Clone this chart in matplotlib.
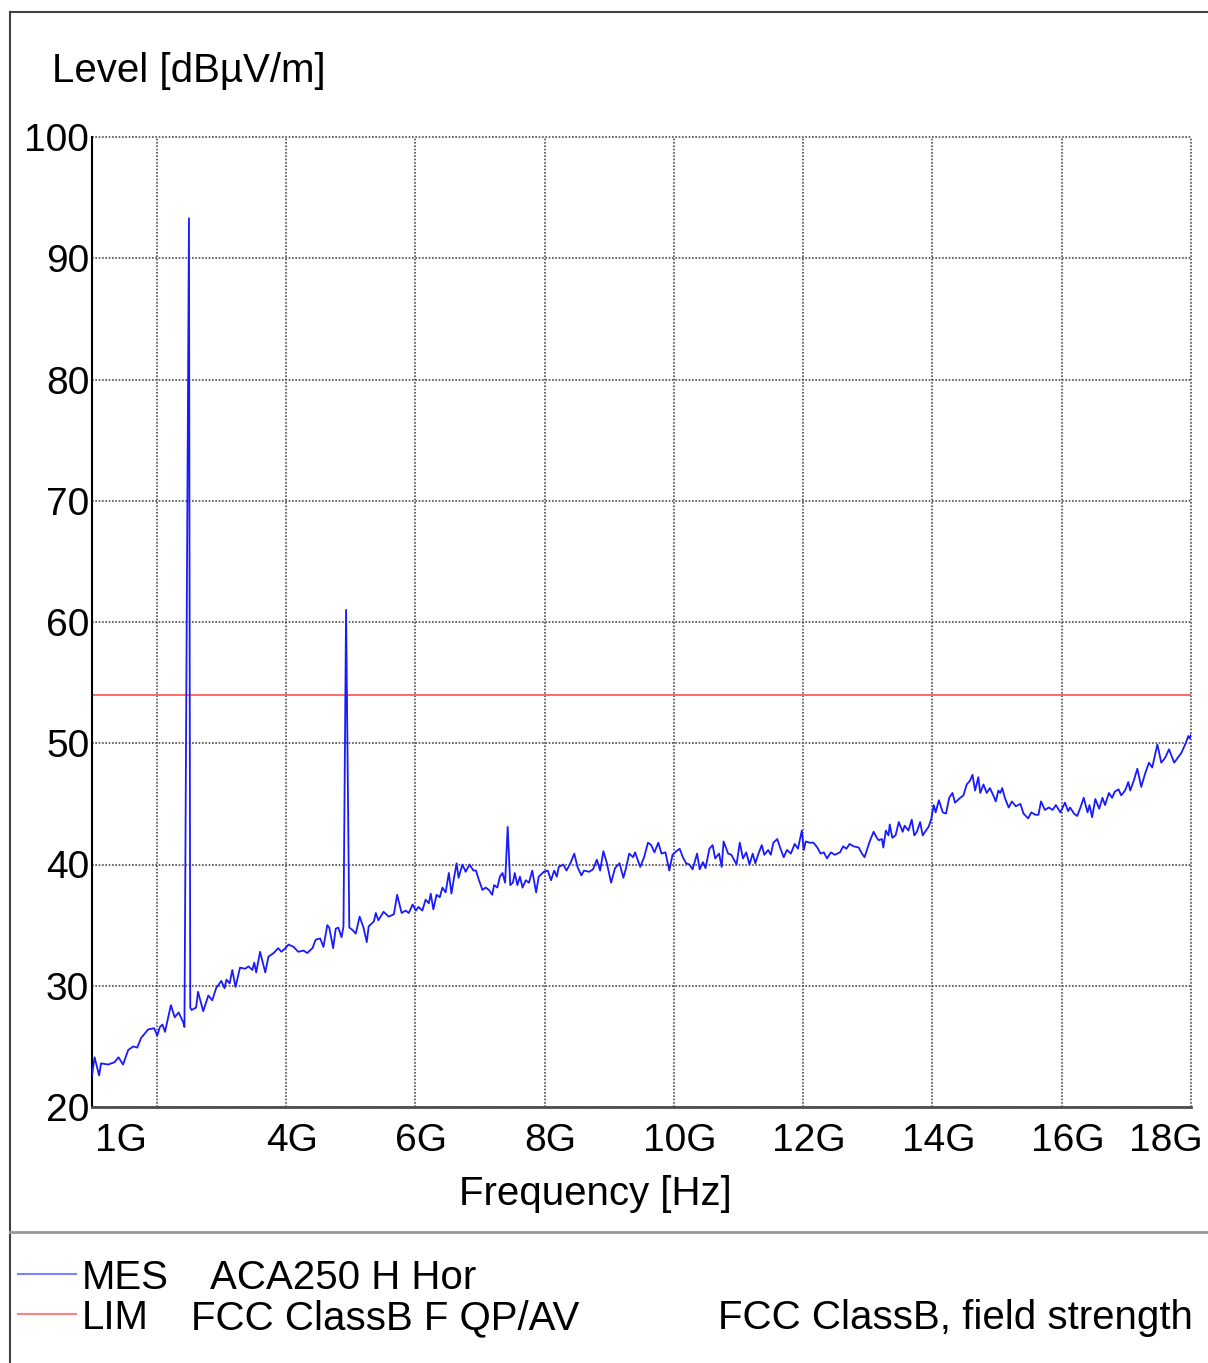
import matplotlib
matplotlib.use("Agg")
import matplotlib.pyplot as plt
from matplotlib.lines import Line2D
import matplotlib.transforms as mtransforms

plt.rcParams['font.family'] = ['Liberation Sans', 'DejaVu Sans']

# ---------------- data ----------------
freq_ghz = [
    1.00, 1.04, 1.11, 1.14, 1.25, 1.35, 1.41, 1.48, 1.56, 1.64, 1.70, 1.76, 1.87, 1.96, 2.01, 2.05,
    2.09, 2.13, 2.22, 2.28, 2.34, 2.41, 2.43, 2.50, 2.52, 2.54, 2.61, 2.64, 2.72, 2.80, 2.86, 2.92,
    3.00, 3.05, 3.08, 3.13, 3.17, 3.22, 3.29, 3.37, 3.42, 3.48, 3.51, 3.54, 3.60, 3.68, 3.73, 3.81,
    3.88, 3.93, 4.01, 4.04, 4.12, 4.19, 4.27, 4.33, 4.41, 4.46, 4.53, 4.58, 4.64, 4.67, 4.73, 4.77,
    4.81, 4.86, 4.89, 4.93, 4.98, 5.03, 5.08, 5.14, 5.20, 5.25, 5.28, 5.36, 5.39, 5.43, 5.51, 5.59,
    5.67, 5.72, 5.79, 5.85, 5.90, 5.96, 6.01, 6.05, 6.11, 6.16, 6.21, 6.24, 6.28, 6.33, 6.38, 6.42,
    6.47, 6.52, 6.56, 6.60, 6.64, 6.67, 6.73, 6.78, 6.84, 6.90, 6.94, 6.98, 7.04, 7.09, 7.14, 7.19,
    7.22, 7.27, 7.31, 7.35, 7.39, 7.43, 7.47, 7.51, 7.54, 7.58, 7.62, 7.66, 7.71, 7.76, 7.81, 7.87,
    7.91, 7.99, 8.05, 8.10, 8.15, 8.19, 8.22, 8.29, 8.34, 8.40, 8.46, 8.51, 8.57, 8.61, 8.69, 8.75,
    8.81, 8.86, 8.91, 8.96, 9.03, 9.09, 9.16, 9.22, 9.26, 9.31, 9.37, 9.40, 9.48, 9.54, 9.60, 9.65,
    9.70, 9.76, 9.81, 9.87, 9.93, 9.98, 10.04, 10.09, 10.14, 10.19, 10.24, 10.29, 10.36, 10.40, 10.45, 10.49,
    10.55, 10.60, 10.64, 10.70, 10.74, 10.77, 10.84, 10.89, 10.97, 11.02, 11.07, 11.12, 11.17, 11.22, 11.26, 11.31,
    11.36, 11.40, 11.46, 11.50, 11.54, 11.60, 11.65, 11.70, 11.75, 11.81, 11.87, 11.92, 11.98, 12.01, 12.04, 12.10,
    12.16, 12.22, 12.27, 12.32, 12.37, 12.43, 12.49, 12.57, 12.62, 12.67, 12.72, 12.78, 12.86, 12.91, 12.95, 13.03,
    13.09, 13.14, 13.17, 13.22, 13.24, 13.28, 13.32, 13.34, 13.38, 13.43, 13.48, 13.54, 13.57, 13.63, 13.68, 13.72,
    13.76, 13.81, 13.85, 13.90, 13.94, 13.98, 14.02, 14.05, 14.10, 14.16, 14.21, 14.26, 14.31, 14.35, 14.43, 14.48,
    14.53, 14.58, 14.62, 14.66, 14.71, 14.74, 14.79, 14.84, 14.89, 14.95, 14.98, 15.02, 15.05, 15.08, 15.12, 15.18,
    15.23, 15.29, 15.36, 15.41, 15.48, 15.53, 15.59, 15.64, 15.68, 15.74, 15.80, 15.86, 15.91, 15.98, 16.05, 16.10,
    16.13, 16.19, 16.24, 16.29, 16.34, 16.40, 16.43, 16.47, 16.52, 16.58, 16.63, 16.67, 16.73, 16.78, 16.82, 16.88,
    16.92, 16.98, 17.03, 17.06, 17.12, 17.17, 17.23, 17.29, 17.35, 17.40, 17.48, 17.54, 17.60, 17.66, 17.74, 17.81,
    17.85, 17.91, 17.96, 17.98, 18.00,
]
level_dbuv = [
    22.6, 24.1, 22.6, 23.6, 23.5, 23.7, 24.1, 23.5, 24.7, 25.0, 24.9, 25.7, 26.4, 26.5, 25.9, 26.6,
    26.8, 26.2, 28.4, 27.4, 27.8, 27.0, 26.6, 93.3, 28.2, 28.0, 28.2, 29.5, 27.9, 29.2, 28.8, 29.8,
    30.4, 29.8, 30.5, 30.2, 31.3, 29.9, 31.5, 31.4, 31.6, 31.3, 31.9, 31.1, 32.8, 31.1, 32.4, 32.7,
    33.1, 32.8, 33.2, 33.4, 33.2, 32.8, 32.9, 32.7, 33.1, 33.8, 33.9, 33.2, 35.0, 34.8, 33.1, 34.7,
    34.8, 34.0, 34.9, 61.0, 34.8, 34.6, 34.3, 35.7, 34.8, 33.6, 34.9, 35.3, 36.0, 35.4, 36.1, 35.7,
    35.9, 37.5, 36.0, 36.2, 36.0, 36.7, 36.2, 36.5, 36.2, 37.1, 36.8, 37.6, 36.3, 37.5, 37.3, 38.1,
    37.7, 39.3, 37.6, 38.9, 40.1, 38.9, 40.0, 39.4, 40.0, 39.5, 39.5, 38.8, 37.9, 38.1, 37.9, 37.5,
    38.3, 38.1, 39.0, 39.3, 38.5, 43.1, 38.3, 38.5, 39.3, 38.3, 39.0, 38.1, 38.7, 38.5, 39.5, 37.7,
    39.0, 39.4, 39.5, 38.7, 39.5, 39.0, 39.8, 40.0, 39.5, 40.1, 40.9, 39.8, 39.1, 39.5, 39.4, 39.6,
    40.4, 39.5, 41.1, 40.2, 38.5, 39.7, 40.1, 38.9, 39.7, 40.9, 40.6, 41.0, 39.8, 40.6, 41.8, 41.6,
    41.0, 41.8, 40.9, 41.0, 39.5, 40.8, 41.1, 41.3, 40.6, 40.1, 40.0, 39.6, 40.9, 39.6, 40.2, 39.7,
    41.3, 41.6, 40.5, 40.9, 39.8, 41.9, 40.9, 40.8, 40.0, 41.8, 40.5, 41.0, 40.0, 40.9, 40.1, 40.9,
    41.6, 40.8, 41.2, 40.8, 41.8, 42.1, 41.3, 40.6, 41.2, 40.9, 41.7, 41.3, 42.8, 41.2, 41.9, 41.8,
    41.8, 41.4, 40.9, 41.0, 40.5, 41.0, 40.8, 41.0, 41.5, 41.3, 41.7, 41.5, 41.4, 40.9, 40.6, 41.9,
    42.7, 42.2, 42.0, 42.1, 41.4, 42.8, 42.4, 43.3, 42.2, 42.4, 43.5, 42.7, 43.2, 42.8, 43.7, 42.4,
    42.7, 43.5, 42.4, 42.8, 43.1, 43.7, 44.9, 44.3, 45.3, 44.3, 44.2, 45.5, 45.9, 45.1, 45.5, 45.7,
    46.6, 46.9, 47.4, 46.1, 47.2, 45.9, 46.6, 45.9, 46.3, 45.6, 45.2, 46.1, 45.9, 46.3, 45.5, 44.7,
    45.2, 44.8, 45.0, 44.2, 43.8, 44.3, 44.1, 44.1, 45.2, 44.5, 44.7, 44.5, 44.9, 44.3, 45.1, 44.4,
    44.7, 44.2, 44.0, 44.7, 45.5, 44.3, 44.9, 43.9, 45.4, 44.6, 45.5, 44.9, 45.9, 45.5, 46.0, 46.2,
    45.7, 46.1, 46.8, 46.1, 47.0, 47.9, 46.4, 47.5, 48.4, 48.0, 49.9, 48.4, 48.8, 49.5, 48.4, 48.9,
    49.2, 49.9, 50.6, 50.4, 50.7,
]
limit_freq_ghz = [1.0, 18.0]
limit_level = [54.0, 54.0]

x_grid = [2, 4, 6, 8, 10, 12, 14, 16, 18]
y_grid = [20, 30, 40, 50, 60, 70, 80, 90, 100]
x_tick_vals = [1, 4, 6, 8, 10, 12, 14, 16, 18]
x_tick_text = ['1G', '4G', '6G', '8G', '10G', '12G', '14G', '16G', '18G']
y_tick_text = ['20', '30', '40', '50', '60', '70', '80', '90', '100']

legend_keys = ['MES', 'LIM']
legend_names = ['ACA250 H Hor', 'FCC ClassB F QP/AV']
legend_extra = 'FCC ClassB, field strength'

# ---------------- figure ----------------
W, H = 1208, 1363
fig = plt.figure(figsize=(W / 100, H / 100), dpi=100)
fig.patch.set_facecolor('white')

def fx(px):
    return px / W

def fy(py):
    return 1 - py / H

ax = fig.add_axes([fx(92), fy(1107), (1191 - 92) / W, (1107 - 137) / H])
ax.set_xlim(1, 18)
ax.set_ylim(20, 100)

grid_kw = dict(color='0.3', lw=1.2, ls=(0, (1, 1)), zorder=1, clip_on=False)
for xv in x_grid:
    ax.axvline(xv, **grid_kw)
for yv in y_grid:
    ax.axhline(yv, **grid_kw)

ax.plot(limit_freq_ghz, limit_level, color='#ff5a5a', lw=1.3, zorder=2)
ax.plot(freq_ghz, level_dbuv, color='#1a1aff', lw=1.3, zorder=3)

for s in ['top', 'right']:
    ax.spines[s].set_visible(False)
ax.spines['left'].set_color('black')
ax.spines['left'].set_linewidth(1.5)
ax.spines['bottom'].set_color('0.3')
ax.spines['bottom'].set_linewidth(2.0)

ax.set_xticks([])
ax.set_yticks(y_grid)
ax.set_yticklabels(y_tick_text)
ax.tick_params(axis='y', length=0, pad=2, labelsize=28)
for lab in ax.get_yticklabels():
    lab.set_verticalalignment('center')
    lab.set_transform(lab.get_transform() + mtransforms.ScaledTranslation(0, -4 / 100, fig.dpi_scale_trans))

# x tick labels (placed below the axis, shifted like the reference)
trans = mtransforms.blended_transform_factory(ax.transData, fig.transFigure)
for val, txt in zip(x_tick_vals, x_tick_text):
    if val == x_tick_vals[0]:
        ha, dx = 'left', 3
    elif val == x_tick_vals[-1]:
        ha, dx = 'right', 12
    else:
        ha, dx = 'center', 6
    t = trans + mtransforms.ScaledTranslation(dx / 100, 0, fig.dpi_scale_trans)
    ax.text(val, fy(1141), txt, transform=t, ha=ha, va='center', fontsize=28, clip_on=False)

fig.text(fx(595), fy(1194), 'Frequency [Hz]', ha='center', va='center', fontsize=29)
fig.text(fx(52), fy(71), 'Level [dBµV/m]', ha='left', va='center', fontsize=29)

# outer frame and separator
fig.add_artist(Line2D([fx(10), fx(10)], [fy(12), fy(H + 5)], color='0.25', lw=1.5))
fig.add_artist(Line2D([fx(10), fx(W + 5)], [fy(12), fy(12)], color='0.25', lw=1.5))
fig.add_artist(Line2D([fx(10), fx(W + 5)], [fy(1232), fy(1232)], color='0.6', lw=2.0))

# legend
legend_colors = ['#8080ff', '#ff8080']
legend_y = [1277, 1317]
for key, name, col, yy in zip(legend_keys, legend_names, legend_colors, legend_y):
    fig.add_artist(Line2D([fx(18), fx(76)], [fy(yy - 3), fy(yy - 3)], color=col, lw=1.5))
    fig.text(fx(82), fy(yy + 1), key, ha='left', va='center', fontsize=29)
fig.text(fx(210), fy(1278), legend_names[0], ha='left', va='center', fontsize=29)
fig.text(fx(191), fy(1318), legend_names[1], ha='left', va='center', fontsize=29)
fig.text(fx(1193), fy(1318), legend_extra, ha='right', va='center', fontsize=29)

fig.savefig('out.png', dpi=100, facecolor='white')
